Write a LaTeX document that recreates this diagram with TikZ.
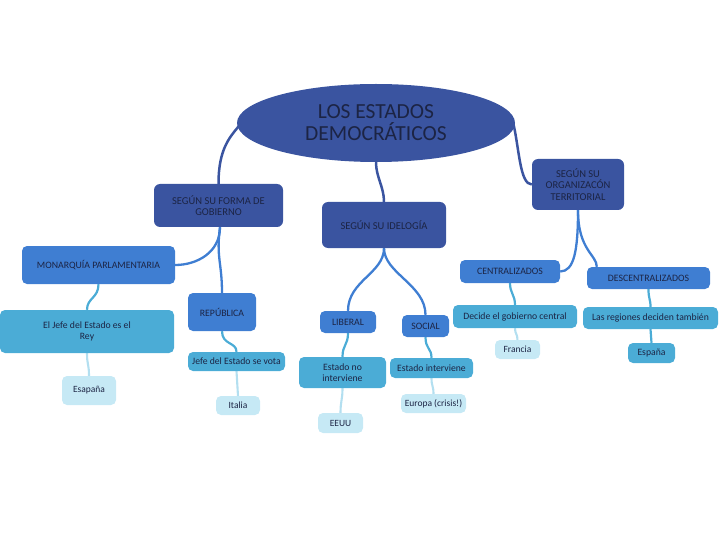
\documentclass[tikz,border=0pt]{standalone}
\usepackage{fontspec}
\setmainfont{Carlito}
\usetikzlibrary{shapes.geometric,backgrounds}
\definecolor{cA}{HTML}{3A54A0}
\definecolor{cB}{HTML}{3F7ED2}
\definecolor{cC}{HTML}{4BACD6}
\definecolor{cD}{HTML}{C6E9F5}
\definecolor{cL}{HTML}{B3DFF0}
\definecolor{txt}{HTML}{1C2444}
\tikzset{
  box/.style={rectangle, rounded corners=5pt, inner sep=0pt, align=center, text=txt},
  lvA/.style={box, fill=cA, rounded corners=6pt, font=\fontsize{10.5}{11.5}\selectfont},
  lvB/.style={box, fill=cB, font=\fontsize{9.8}{10.8}\selectfont},
  lvC/.style={box, fill=cC, font=\fontsize{9.7}{10.7}\selectfont},
  lvD/.style={box, fill=cD, font=\fontsize{9.5}{10.5}\selectfont},
  conA/.style={draw=cA, line width=2.5pt},
  conB/.style={draw=cB, line width=2.3pt},
  conC/.style={draw=cC, line width=2.2pt},
  conD/.style={draw=cL, line width=2.1pt},
}
\begin{document}
\begin{tikzpicture}[x=1pt,y=-1pt]
\useasboundingbox (0,0) rectangle (720,540);
% nodes
\node[ellipse, fill=cA, minimum width=278pt, minimum height=78pt, inner sep=0pt, align=center, text=txt, font=\fontsize{21.5}{22}\selectfont] (el) at (376,123) {LOS ESTADOS\\DEMOCRÁTICOS};
\node[lvA, minimum width=129pt, minimum height=43pt] (fg) at (218.5,205.5) {SEGÚN SU FORMA DE\\GOBIERNO};
\node[lvA, minimum width=124pt, minimum height=46pt] (id) at (384,225) {SEGÚN SU IDELOGÍA};
\node[lvA, minimum width=92pt, minimum height=51pt] (ot) at (578,184.5) {SEGÚN SU\\ORGANIZACÓN\\TERRITORIAL};
\node[lvB, minimum width=153pt, minimum height=38pt] (mo) at (98.5,265) {MONARQUÍA PARLAMENTARIA};
\node[lvB, minimum width=68pt, minimum height=38pt] (re) at (222,312) {REPÚBLICA};
\node[lvB, minimum width=56pt, minimum height=22pt] (li) at (348,322) {LIBERAL};
\node[lvB, minimum width=47pt, minimum height=22pt] (so) at (425.5,326) {SOCIAL};
\node[lvB, minimum width=100pt, minimum height=23pt] (ce) at (510,271.5) {CENTRALIZADOS};
\node[lvB, minimum width=123pt, minimum height=22pt] (de) at (648.5,278) {DESCENTRALIZADOS};
\node[lvC, minimum width=174pt, minimum height=43pt] (ry) at (87,331.5) {El Jefe del Estado es el\\Rey};
\node[lvC, minimum width=97pt, minimum height=19pt] (vo) at (236.5,361.5) {Jefe del Estado se vota};
\node[lvC, minimum width=87pt, minimum height=31pt] (en) at (342.5,372.5) {Estado no\\interviene};
\node[lvC, minimum width=83pt, minimum height=20pt] (ei) at (431.5,368) {Estado interviene};
\node[lvC, minimum width=124pt, minimum height=23pt] (dc) at (515,316.5) {Decide el gobierno central};
\node[lvC, minimum width=135pt, minimum height=22pt] (rg) at (650.5,318) {Las regiones deciden también};
\node[lvD, minimum width=54pt, minimum height=29pt] (ea) at (89,390.5) {Esapaña};
\node[lvD, minimum width=44pt, minimum height=19pt] (it) at (238,405.5) {Italia};
\node[lvD, minimum width=45pt, minimum height=20pt] (eu) at (340.5,423) {EEUU};
\node[lvD, minimum width=65pt, minimum height=19pt] (ep) at (433.5,403.5) {Europa (crisis!)};
\node[lvD, minimum width=45pt, minimum height=19pt] (fr) at (517.5,349.5) {Francia};
\node[lvC, minimum width=47pt, minimum height=20pt] (es) at (651.5,353) {España};
% connectors behind the nodes
\begin{scope}[on background layer]
\coordinate (elw) at ([xshift=3pt,yshift=-2pt]el.west);
\coordinate (fgb) at ([xshift=1.5pt]fg.south);
\draw[conA] (elw) .. controls +(-10,12) and +(0,-35) .. (fg.north);
\draw[conA] (el.south) .. controls +(0,15) and +(0,-15) .. (id.north);
\draw[conA] ([xshift=-2pt]el.east) .. controls +(6,25) and +(-12,0) .. (ot.west);
\draw[conB] (fgb) .. controls +(0,25) and +(22,0) .. (mo.east);
\draw[conB] (fgb) .. controls +(-4,30) and +(0,-30) .. (re.north);
\draw[conB] (id.south) .. controls +(0,25) and +(0,-30) .. (li.north);
\draw[conB] (id.south) .. controls +(0,25) and +(0,-30) .. (so.north);
\draw[conB] (ot.south) .. controls +(0,40) and +(14,0) .. (ce.east);
\draw[conB] (ot.south) .. controls +(0,40) and +(0,-12) .. ([xshift=10pt]de.north west);
\draw[conC] (mo.south) .. controls +(0,14) and +(0,-12) .. (ry.north);
\draw[conC] (re.south) .. controls +(0,14) and +(0,-10) .. (vo.north);
\draw[conC] (li.south) .. controls +(0,12) and +(0,-12) .. (en.north);
\draw[conC] (so.south) .. controls +(0,12) and +(0,-10) .. (ei.north);
\draw[conC] (ce.south) .. controls +(0,10) and +(0,-10) .. (dc.north);
\draw[conC] (de.south) .. controls +(0,10) and +(0,-8) .. (rg.north);
\draw[conD] (ry.south) .. controls +(0,12) and +(0,-12) .. (ea.north);
\draw[conD] (vo.south) .. controls +(0,12) and +(0,-12) .. (it.north);
\draw[conD] (en.south) .. controls +(0,12) and +(0,-12) .. (eu.north);
\draw[conD] (ei.south) .. controls +(0,8) and +(0,-8) .. (ep.north);
\draw[conD] (dc.south) .. controls +(0,6) and +(0,-6) .. (fr.north);
\draw[conC] (rg.south) .. controls +(0,7) and +(0,-7) .. (es.north);
\end{scope}
\end{tikzpicture}
\end{document}
